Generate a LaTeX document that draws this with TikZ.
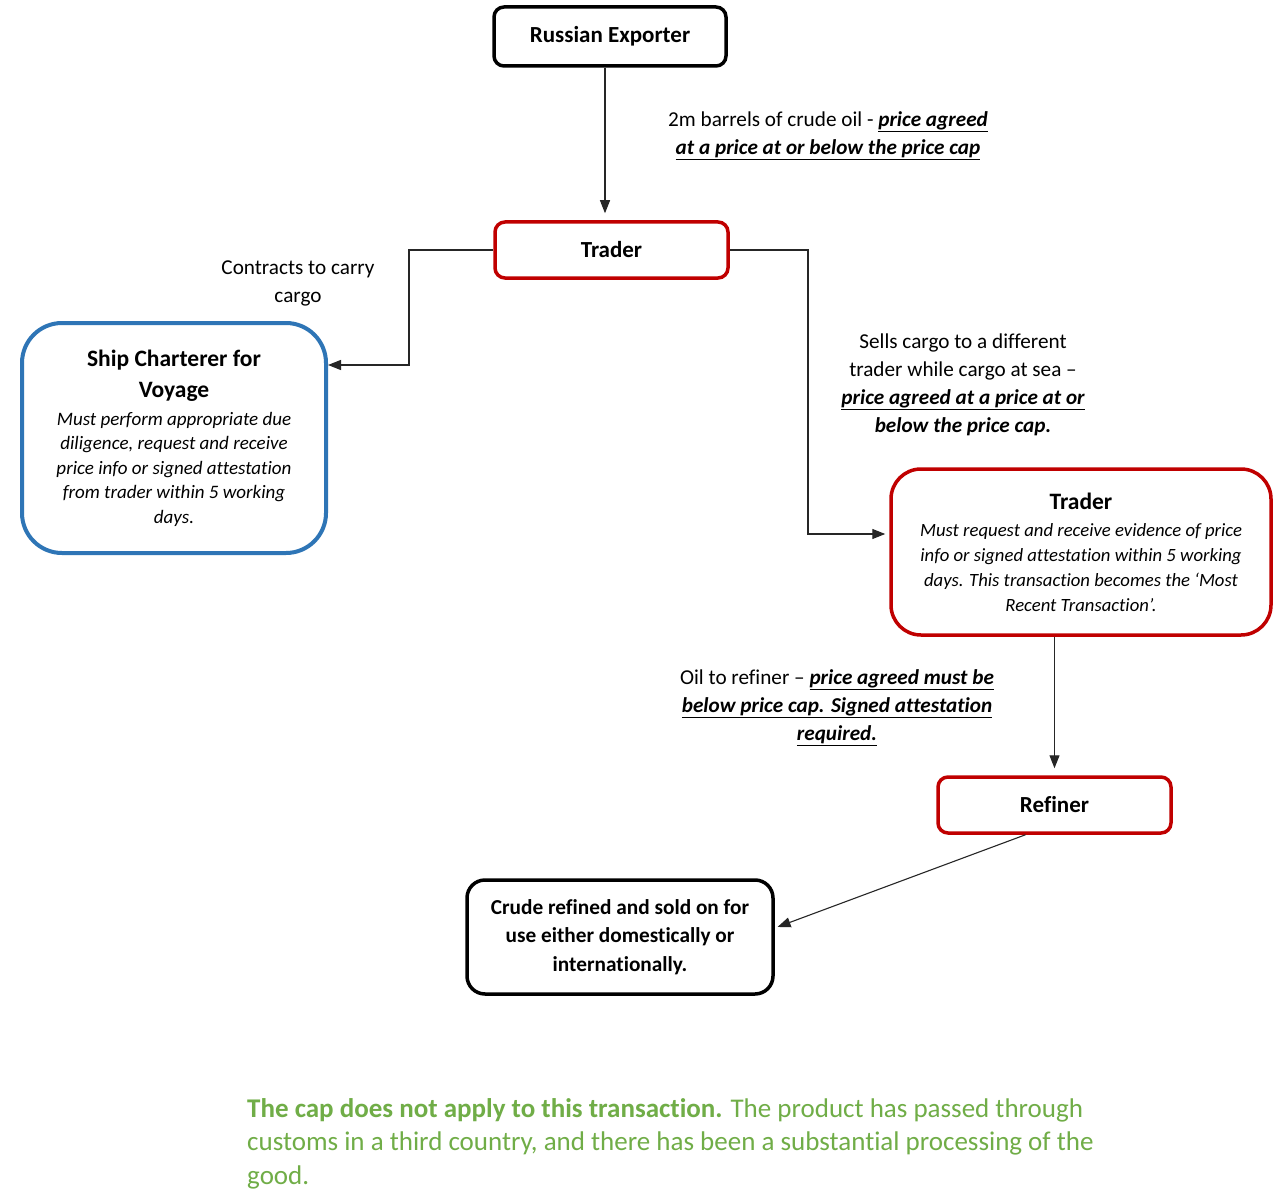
\documentclass[tikz,border=0pt]{standalone}
\usepackage{fontspec}
\setmainfont{Carlito}[Ligatures={TeX,NoCommon}]
\usetikzlibrary{arrows.meta}
\definecolor{boxred}{RGB}{192,0,0}
\definecolor{boxblue}{RGB}{46,117,182}
\definecolor{notegreen}{RGB}{112,173,71}
\newcommand{\bu}[1]{\textbf{\textit{\underline{#1}}}}
\tikzset{
  box/.style={draw, line width=3.5pt, rounded corners=10pt, inner sep=0pt, align=center, fill=white},
  blackbox/.style={box, draw=black},
  redbox/.style={box, draw=boxred},
  bluebox/.style={box, draw=boxblue, line width=4pt, rounded corners=40pt},
  title/.style={font={\fontsize{23}{28}\selectfont\bfseries}},
  lbl/.style={align=center, font={\fontsize{21.2}{28}\selectfont}, inner sep=0pt},
  conn/.style={draw=black!85, line width=1.1pt, -{Triangle[length=13pt,width=10pt]}},
}
\begin{document}
\begin{tikzpicture}[x=1pt,y=-1pt]
\path[use as bounding box, fill=white] (0,0) rectangle (1280,1201);

\node[blackbox, title, minimum width=232pt, minimum height=59pt] (exp) at (610,36.5) {Russian Exporter};
\node[redbox, title, minimum width=233pt, minimum height=56pt] (tr1) at (611.5,250) {Trader};
\node[bluebox, minimum width=304pt, minimum height=230pt, font={\fontsize{19}{24.5}\selectfont}] (ship) at (174,438)
  {{\fontsize{23.5}{31}\selectfont\bfseries Ship Charterer for}\\[6.5pt]
   {\fontsize{23.5}{31}\selectfont\bfseries Voyage}\\[3.5pt]
   \itshape Must perform appropriate due\\
   \itshape diligence, request and receive\\
   \itshape price info or signed attestation\\
   \itshape from trader within 5 working\\
   \itshape days.};
\node[redbox, rounded corners=30pt, minimum width=380pt, minimum height=166pt, font={\fontsize{18.7}{25}\selectfont}] (tr2) at (1081,552)
  {{\fontsize{23.5}{28}\selectfont\bfseries Trader}\\[2pt]
   \itshape Must request and receive evidence of price\\
   \itshape info or signed attestation within 5 working\\
   \itshape days. This transaction becomes the `Most\\
   \itshape Recent Transaction'.};
\node[redbox, title, minimum width=233pt, minimum height=56pt] (ref) at (1054.5,805) {Refiner};
\node[blackbox, rounded corners=18pt, minimum width=306pt, minimum height=114pt, font={\fontsize{21.3}{28.5}\selectfont\bfseries}] (fin) at (620,937)
  {Crude refined and sold on for\\use either domestically or\\internationally.};

\node[lbl] (l1) at (828,135.5) {2m barrels of crude oil - \bu{price agreed}\\ \bu{at a price at or below the price cap}};
\node[lbl] (l2) at (298,283.5) {Contracts to carry\\cargo};
\node[lbl] (l3) at (963,384.5) {Sells cargo to a different\\trader while cargo at sea --\\ \bu{price agreed at a price at or}\\ \textbf{\textit{below the price cap.}}};
\node[lbl] (l4) at (837,707.5) {Oil to refiner -- \bu{price agreed must be}\\ \bu{below price cap. Signed attestation}\\ \bu{required.}};

\coordinate (c1) at (409,365);
\coordinate (c2) at (808,534);

\draw[conn, shorten >=7pt] ([xshift=-5pt]exp.south) -- ([xshift=-6.5pt]tr1.north);
\draw[conn] (tr1.west) -| (c1) -- (c1 -| ship.east);
\draw[conn, shorten >=4pt] (tr1.east) -| (c2) -- (c2 -| tr2.west);
\draw[conn, shorten >=7pt] (tr2.south -| ref.north) -- (ref.north);
\draw[conn, shorten >=3pt] ([xshift=-29pt]ref.south) -- ([yshift=9pt]fin.east);

\node[anchor=north west, align=left, inner sep=0pt, text=notegreen, font={\fontsize{27}{33.5}\selectfont}] (note) at (247,1098)
  {{\bfseries The cap does not apply to this transaction.} The product has passed through\\
   customs in a third country, and there has been a substantial processing of the\\
   good.};
\end{tikzpicture}
\end{document}
